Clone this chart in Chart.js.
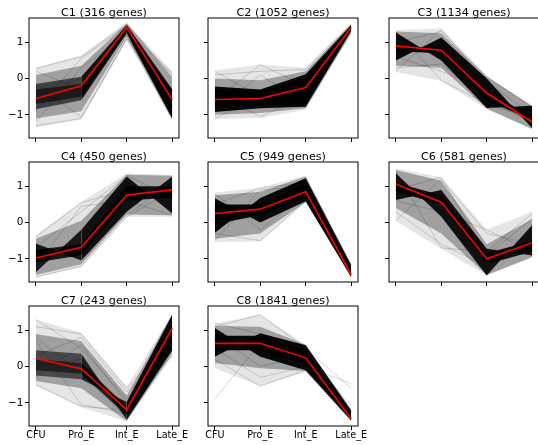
<!DOCTYPE html>
<html>
<head>
<meta charset="utf-8">
<script src="https://cdn.jsdelivr.net/npm/chart.js@4/dist/chart.umd.min.js"></script>
<style>
  html, body { margin: 0; padding: 0; background: #fff; }
  #wrap { position: relative; width: 538px; height: 445px; overflow: hidden; background: #fff; }
  #wrap canvas { position: absolute; }
</style>
</head>
<body>
<div id="wrap"></div>
<script>
// ---------------- data ----------------
const categories = ['CFU', 'Pro_E', 'Int_E', 'Late_E'];
const clusterNames = ['C1', 'C2', 'C3', 'C4', 'C5', 'C6', 'C7', 'C8'];
const geneCounts = [316, 1052, 1134, 450, 949, 581, 243, 1841];
const yTickValues = [-1, 0, 1];

// cluster mean profile (red line)
const meanProfiles = [
  [-0.55, -0.20, 1.41, -0.58],
  [-0.58, -0.55, -0.25, 1.41],
  [0.90, 0.78, -0.40, -1.20],
  [-0.98, -0.68, 0.76, 0.90],
  [0.25, 0.37, 0.85, -1.44],
  [1.06, 0.56, -1.00, -0.56],
  [0.22, -0.06, -1.19, 1.06],
  [0.64, 0.64, 0.24, -1.44]
];
// outer envelope of all gene profiles
const outerUpper = [
  [0.30, 0.64, 1.55, 0.20],
  [0.22, 0.39, 0.30, 1.53],
  [1.34, 1.38, 0.08, -0.75],
  [-0.35, 0.57, 1.36, 1.31],
  [0.83, 0.96, 1.30, -1.14],
  [1.50, 1.25, -0.19, 0.30],
  [1.30, 0.93, -0.56, 1.45],
  [1.19, 1.43, 0.60, -1.17]
];
const outerLower = [
  [-1.35, -1.12, 1.04, -1.16],
  [-1.12, -1.09, -0.86, 1.22],
  [0.18, -0.07, -0.84, -1.40],
  [-1.51, -1.23, 0.16, 0.16],
  [-0.54, -0.52, 0.56, -1.51],
  [0.04, -0.72, -1.46, -0.97],
  [-0.52, -1.12, -1.51, 0.27],
  [-0.05, -0.54, -0.15, -1.51]
];
// band that holds most of the gene profiles
const midUpper = [
  [0.10, 0.35, 1.52, 0.05],
  [0.00, -0.05, 0.20, 1.50],
  [1.30, 1.25, 0.05, -0.76],
  [-0.45, 0.05, 1.32, 1.29],
  [0.75, 0.85, 1.27, -1.15],
  [1.45, 1.15, -0.60, 0.10],
  [0.90, 0.70, -0.80, 1.44],
  [1.12, 1.10, 0.60, -1.20]
];
const midLower = [
  [-1.10, -0.90, 1.15, -1.14],
  [-1.00, -0.95, -0.82, 1.28],
  [0.35, 0.30, -0.83, -1.39],
  [-1.45, -1.15, 0.22, 0.20],
  [-0.45, -0.30, 0.57, -1.50],
  [0.40, -0.30, -1.45, -0.95],
  [-0.40, -0.60, -1.50, 0.35],
  [0.10, -0.05, -0.12, -1.50]
];
// dense core: two edge profiles (they cross where the bundle pinches)
const coreEdgeA = [
  [-0.15, 0.05, 1.48, -0.30],
  [-0.22, -0.30, 0.12, 1.48],
  [1.27, 0.50, -0.81, -0.75],
  [-0.58, -1.05, 0.30, 1.27],
  [0.67, 0.00, 0.59, -1.50],
  [1.36, 0.16, -1.46, -0.07],
  [0.45, 0.35, -1.47, 0.45],
  [1.06, 0.27, -0.10, -1.49]
];
const coreEdgeB = [
  [-0.85, -0.60, 1.25, -1.10],
  [-0.92, -0.82, -0.78, 1.32],
  [0.50, 1.13, 0.00, -1.37],
  [-1.37, -0.20, 1.27, 0.25],
  [-0.28, 0.68, 1.22, -1.18],
  [0.62, 0.90, -0.72, -0.91],
  [-0.25, -0.35, -0.98, 1.43],
  [0.27, 0.92, 0.59, -1.22]
];
// narrow inner core (fills the waist where the bundle pinches)
const innerUpper = [
  [-0.30, -0.15, 1.45, -0.50],
  [-0.30, -0.35, 0.00, 1.45],
  [0.90, 0.85, -0.35, -1.05],
  [-0.75, -0.60, 1.00, 1.00],
  [0.50, 0.50, 1.10, -1.25],
  [1.10, 0.75, -0.85, -0.50],
  [0.20, 0.10, -1.10, 1.20],
  [0.85, 0.85, 0.45, -1.30]
];
const innerLower = [
  [-0.70, -0.50, 1.30, -1.05],
  [-0.80, -0.75, -0.70, 1.35],
  [0.75, 0.70, -0.60, -1.15],
  [-1.10, -0.90, 0.60, 0.70],
  [-0.05, 0.20, 0.70, -1.45],
  [0.85, 0.50, -1.15, -0.80],
  [-0.10, -0.20, -1.35, 0.70],
  [0.45, 0.45, 0.05, -1.45]
];
// a few individually visible (outlying) gene profiles
const faintGenes = [
  [[0.28, 0.60, 1.50, 0.10], [-1.30, -1.10, 1.10, -0.80], [0.20, -0.30, 1.30, 0.15], [-0.90, 0.55, 1.45, -0.30], [-0.20, -1.05, 1.10, -0.50], [-1.20, 0.30, 1.20, -1.00]],
  [[0.20, -0.50, -0.30, 1.40], [-0.60, 0.38, -0.20, 1.45], [-1.10, -0.50, -0.60, 1.30], [-0.40, -1.05, -0.50, 1.35], [0.10, 0.20, 0.25, 1.50], [-0.90, 0.10, -0.70, 1.25]],
  [[0.20, 1.35, -0.10, -1.00], [1.30, -0.05, -0.70, -1.10], [0.60, 0.20, -0.30, -1.30], [1.00, 1.30, 0.05, -0.80], [0.30, 0.40, -0.60, -1.20]],
  [[-0.40, 0.55, 0.90, 0.60], [-1.50, -1.20, 0.15, 0.90], [-0.70, 0.30, 1.30, 0.70], [-1.20, 0.45, 0.60, 0.20], [-0.90, -0.50, 0.20, 1.10]],
  [[0.80, -0.20, 0.80, -1.40], [-0.50, 0.90, 1.00, -1.30], [-0.30, -0.50, 0.60, -1.45], [0.50, 0.95, 1.10, -1.20], [0.00, 0.50, 0.70, -1.50]],
  [[0.05, 1.20, -0.30, -0.60], [1.40, -0.70, -0.80, 0.25], [0.30, -0.60, -1.20, -0.40], [0.90, 1.25, -0.90, 0.10], [0.60, 0.30, -0.20, -0.80]],
  [[1.30, 0.50, -0.90, 0.60], [1.10, 0.90, -0.60, 0.80], [-0.50, -1.10, -1.20, 1.00], [0.80, -0.20, -1.40, 1.40], [-0.30, 0.60, -1.00, 0.30], [0.30, 0.80, -0.70, 0.50], [0.70, -1.05, -1.30, 1.20], [0.00, 0.20, -1.45, 0.90]],
  [[-0.89, 0.64, 0.50, -0.60], [0.20, -0.54, -0.10, -1.40], [1.10, 1.43, 0.50, -1.30], [0.50, -0.30, 0.00, -0.47], [0.90, 0.00, 0.30, -1.07], [1.19, 0.90, 0.55, -1.20]]
];

// ---------------- layout / style ----------------
const panelCol = [0, 1, 2, 0, 1, 2, 0, 1];
const panelRow = [0, 0, 0, 1, 1, 1, 2, 2];
const colLeft = [29, 208, 389];
const rowTop = [18, 162, 306];
const PLOT_W = 150, PLOT_H = 120, Y_AXIS_W = 28, TITLE_H = 18, X_AXIS_H = 20, PAD_R = 14;
// opacity of the dense core on each of the three segments
const coreSegAlpha = [
  [0.6, 0.88, 0.95], [0.95, 0.95, 0.95], [0.95, 0.95, 0.95], [0.85, 0.9, 0.9],
  [0.95, 0.95, 0.95], [0.9, 0.9, 0.9], [0.55, 0.8, 0.95], [0.95, 0.95, 0.95]
];
const FONT = 'DejaVu Sans';

Chart.defaults.font.family = FONT;
Chart.defaults.color = '#000';

const framePlugin = {
  id: 'frame',
  afterDraw(chart) {
    const { ctx, chartArea: a } = chart;
    ctx.save();
    ctx.strokeStyle = '#000';
    ctx.lineWidth = 1;
    ctx.strokeRect(a.left, a.top, a.right - a.left, a.bottom - a.top);
    ctx.restore();
  }
};

function pts(arr) { return arr.map((v, i) => ({ x: i, y: v })); }

function band(upper, lower, colorFn, order) {
  const base = colorFn(0);
  return [
    { data: pts(upper), borderWidth: 0, pointRadius: 0, order,
      fill: { target: '+1', above: base, below: base }, backgroundColor: base,
      segment: { backgroundColor: ctx => colorFn(ctx.p0DataIndex) } },
    { data: pts(lower), borderWidth: 0, pointRadius: 0, order, fill: false }
  ];
}

const wrap = document.getElementById('wrap');
for (let p = 0; p < clusterNames.length; p++) {
  const c = panelCol[p], r = panelRow[p];
  const canvas = document.createElement('canvas');
  const W = Y_AXIS_W + PLOT_W + PAD_R, H = TITLE_H + PLOT_H + X_AXIS_H;
  canvas.width = W; canvas.height = H;
  canvas.style.width = W + 'px'; canvas.style.height = H + 'px';
  canvas.style.left = (colLeft[c] - Y_AXIS_W) + 'px';
  canvas.style.top = (rowTop[r] - TITLE_H) + 'px';
  wrap.appendChild(canvas);

  const coreColor = i => `rgba(0,0,0,${coreSegAlpha[p][Math.min(i, 2)]})`;
  const datasets = [];
  datasets.push({ data: pts(meanProfiles[p]), borderColor: '#ff0000', borderWidth: 1.6,
                  pointRadius: 0, fill: false, order: 0 });
  faintGenes[p].forEach(g => datasets.push({ data: pts(g), borderColor: 'rgba(0,0,0,0.16)',
                  borderWidth: 1, pointRadius: 0, fill: false, order: 1 }));
  datasets.push(...band(innerUpper[p], innerLower[p], coreColor, 2));
  datasets.push(...band(coreEdgeA[p], coreEdgeB[p], coreColor, 3));
  datasets.push(...band(midUpper[p], midLower[p], () => 'rgba(0,0,0,0.3)', 4));
  datasets.push(...band(outerUpper[p], outerLower[p], () => 'rgba(0,0,0,0.1)', 5));

  const showX = r === 2, showY = c === 0;
  new Chart(canvas, {
    type: 'line',
    data: { datasets },
    options: {
      responsive: false, animation: false, devicePixelRatio: 1, events: [],
      layout: { padding: { left: 0, right: PAD_R, top: 0, bottom: 0 } },
      elements: { line: { tension: 0 } },
      plugins: {
        legend: { display: false }, tooltip: { enabled: false },
        title: { display: true, text: `${clusterNames[p]} (${geneCounts[p]} genes)`, fullSize: false,
                 color: '#000', padding: { top: 8, bottom: 0 },
                 font: { family: FONT, size: 11.2, weight: 'normal', lineHeight: '10px' } }
      },
      scales: {
        x: {
          type: 'linear', min: -0.15, max: 3.15,
          afterBuildTicks: s => { s.ticks = categories.map((_, i) => ({ value: i })); },
          afterFit: s => { s.height = X_AXIS_H; s.paddingLeft = 0; s.paddingRight = 0; },
          grid: { display: true, drawOnChartArea: false, drawTicks: true, tickLength: 4, color: '#000', lineWidth: 1 },
          border: { display: false },
          ticks: { display: showX, autoSkip: false, maxRotation: 0, padding: 0, color: '#000',
                   font: { family: FONT, size: 9.6 },
                   callback: v => categories[v] }
        },
        y: {
          type: 'linear', min: -1.64, max: 1.67,
          afterBuildTicks: s => { s.ticks = yTickValues.map(v => ({ value: v })); },
          afterFit: s => { s.width = Y_AXIS_W; s.paddingTop = 0; s.paddingBottom = 0; },
          grid: { display: true, drawOnChartArea: false, drawTicks: true, tickLength: 4, color: '#000', lineWidth: 1 },
          border: { display: false },
          ticks: { display: showY, padding: 1.5, color: '#000', font: { family: FONT, size: 10.5 },
                   callback: v => (v < 0 ? '\u2212' + Math.abs(v) : String(v)) }
        }
      }
    },
    plugins: [framePlugin]
  });
}
</script>
</body>
</html>
